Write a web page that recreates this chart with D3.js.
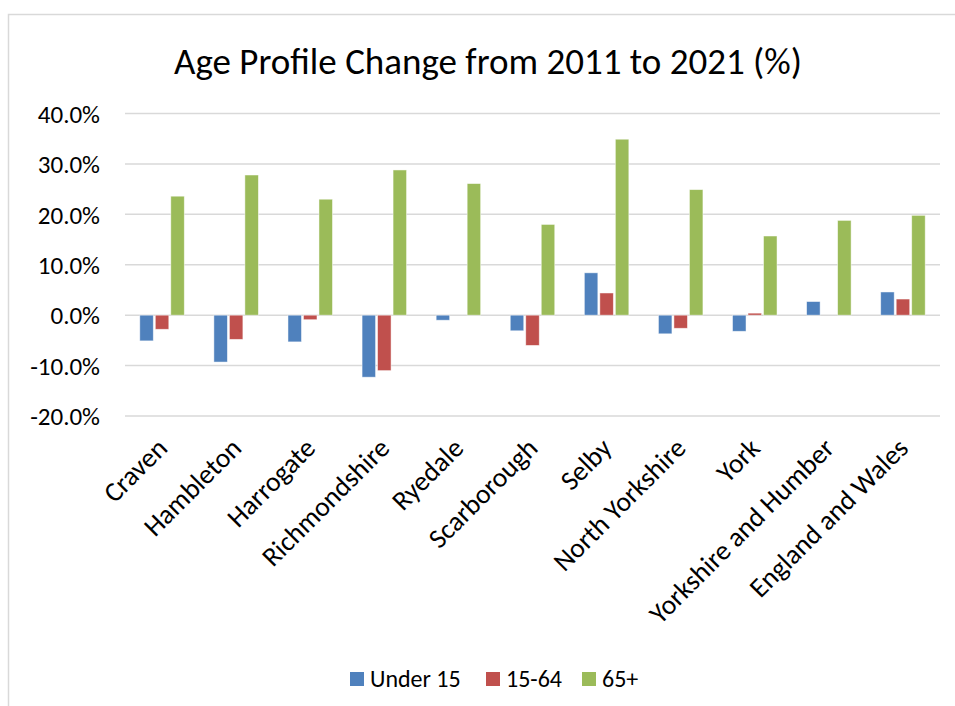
<!DOCTYPE html>
<html>
<head>
<meta charset="utf-8">
<script src="https://cdn.jsdelivr.net/npm/d3@7"></script>
<style>
  body { margin: 0; background: #fff; }
  text { font-family: Carlito, "Open Sans", "Noto Sans", sans-serif; fill: #000; }
</style>
</head>
<body>
<div id="chart"></div>
<script>
const categories = ["Craven", "Hambleton", "Harrogate", "Richmondshire", "Ryedale", "Scarborough",
    "Selby", "North Yorkshire", "York", "Yorkshire and Humber", "England and Wales"];
const seriesNames = ["Under 15", "15-64", "65+"];
const under15 = [-5.1, -9.3, -5.3, -12.3, -1.0, -3.1, 8.4, -3.7, -3.2, 2.7, 4.6];
const age15to64 = [-2.8, -4.8, -0.9, -11.0, 0.0, -6.0, 4.4, -2.6, 0.4, 0.0, 3.2];
const over65 = [23.6, 27.8, 23.0, 28.8, 26.1, 18.0, 34.9, 24.9, 15.7, 18.8, 19.8];
const yTicks = [-20, -10, 0, 10, 20, 30, 40];
const colors = ["#4f81bd", "#c0504d", "#9bbb59"];

const seriesValues = [under15, age15to64, over65];
const data = categories.map((c, i) => ({
    category: c,
    values: seriesNames.map((s, j) => ({ series: s, value: seriesValues[j][i] }))
}));

const width = 955, height = 706;
const margin = {top: 113.5, right: 15, bottom: 290, left: 125};
const fontFamily = 'Carlito, "Open Sans", "Noto Sans", sans-serif';

const svg = d3.select("#chart")
    .append("svg")
    .attr("width", width)
    .attr("height", height);

// chart frame
svg.append("rect")
    .attr("x", 8.5).attr("y", 14.5)
    .attr("width", 960).attr("height", 720)
    .attr("fill", "none")
    .attr("stroke", "#d9d9d9")
    .attr("stroke-width", 1.5);

svg.append("text")
    .attr("x", 488)
    .attr("y", 74)
    .attr("text-anchor", "middle")
    .style("font-size", "37px")
    .text("Age Profile Change from 2011 to 2021 (%)");

const x0 = d3.scaleBand()
    .domain(categories)
    .range([margin.left, width - margin.right])
    .padding(0);

const groupWidth = 46.5;
const x1 = d3.scaleBand()
    .domain(seriesNames)
    .range([0, groupWidth]);

const y = d3.scaleLinear()
    .domain([-20, 40])
    .range([416, margin.top]);

// gridlines
svg.append("g")
    .selectAll("line")
    .data(yTicks)
    .join("line")
    .attr("x1", margin.left)
    .attr("x2", width - margin.right)
    .attr("y1", d => y(d))
    .attr("y2", d => y(d))
    .attr("stroke", "#d9d9d9")
    .attr("stroke-width", 1.5);

// y axis labels
const yAxis = svg.append("g")
    .attr("transform", "translate(" + (margin.left - 25) + ",0)")
    .call(d3.axisLeft(y).tickValues(yTicks).tickSize(0).tickFormat(d => d.toFixed(1) + "%"));
yAxis.select(".domain").remove();
yAxis.selectAll("text")
    .attr("x", 0)
    .attr("dy", "0.35em")
    .style("font-size", "25px")
    .style("font-family", fontFamily);

// bars
const groups = svg.append("g")
    .selectAll("g")
    .data(data)
    .join("g")
    .attr("transform", d => "translate(" + (x0(d.category) + (x0.bandwidth() - groupWidth) / 2) + ",0)");

groups.selectAll("rect")
    .data(d => d.values)
    .join("rect")
    .attr("x", d => x1(d.series) + 1)
    .attr("width", x1.bandwidth() - 2)
    .attr("y", d => y(Math.max(0, d.value)))
    .attr("height", d => Math.abs(y(d.value) - y(0)))
    .attr("fill", (d, i) => colors[i])
    .attr("stroke", "#ffffff")
    .attr("stroke-opacity", 0.6)
    .attr("stroke-width", 0.8);

// category labels
const xAxis = svg.append("g")
    .attr("transform", "translate(0,443)")
    .call(d3.axisBottom(x0).tickSize(0));
xAxis.select(".domain").remove();
xAxis.selectAll("text")
    .attr("text-anchor", "end")
    .attr("y", 0)
    .attr("dy", "0.35em")
    .attr("transform", "translate(0,0) rotate(-45)")
    .style("font-size", "27.5px")
    .style("font-family", fontFamily);

// legend
const legendX = [350, 486, 582];
const legend = svg.append("g")
    .selectAll("g")
    .data(seriesNames)
    .join("g")
    .attr("transform", (d, i) => "translate(" + legendX[i] + ",672)");
legend.append("rect")
    .attr("width", 14)
    .attr("height", 14)
    .attr("fill", (d, i) => colors[i]);
legend.append("text")
    .attr("x", 20)
    .attr("y", 7)
    .attr("dy", "0.35em")
    .style("font-size", "24px")
    .text(d => d);
</script>
</body>
</html>
